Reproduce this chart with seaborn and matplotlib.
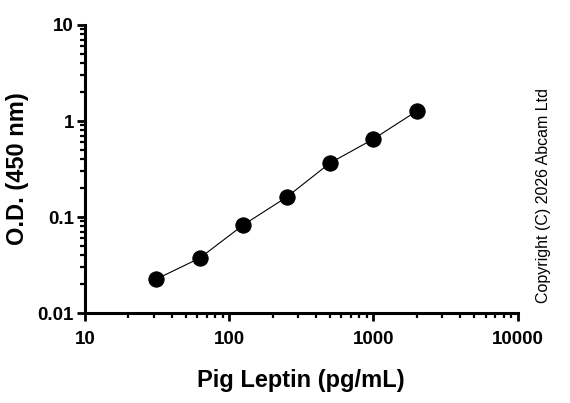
import numpy as np
import pandas as pd
import matplotlib
matplotlib.use("Agg")
import matplotlib.pyplot as plt
import seaborn as sns
from matplotlib.ticker import LogLocator, NullFormatter, FixedLocator, FixedFormatter

# values
concentration = [31.25, 62.5, 125, 250, 500, 1000, 2000]
od_450 = [0.0226, 0.0374, 0.0826, 0.161, 0.365, 0.649, 1.27]
x_ticks = [10, 100, 1000, 10000]
x_tick_labels = ["10", "100", "1000", "10000"]
y_ticks = [0.01, 0.1, 1, 10]
y_tick_labels = ["0.01", "0.1", "1", "10"]

sns.set_style("ticks")
plt.rcParams['font.family'] = ['Liberation Sans', 'DejaVu Sans']
plt.rcParams['text.color'] = 'black'
plt.rcParams['axes.labelcolor'] = 'black'
plt.rcParams['xtick.color'] = 'black'
plt.rcParams['ytick.color'] = 'black'

df = pd.DataFrame({"conc": concentration, "od": od_450})

fig = plt.figure(figsize=(5.7, 4.03), dpi=100)
ax = fig.add_axes([0.149, 0.223, 0.759, 0.715])

sns.lineplot(data=df, x="conc", y="od", color="black", linewidth=0.8,
             marker="o", markersize=11, markeredgecolor="black", ax=ax)

ax.set_xscale("log")
ax.set_yscale("log")
ax.set_xlim(10, 10000)
ax.set_ylim(0.01, 10)

ax.xaxis.set_major_locator(FixedLocator(x_ticks))
ax.xaxis.set_major_formatter(FixedFormatter(x_tick_labels))
ax.yaxis.set_major_locator(FixedLocator(y_ticks))
ax.yaxis.set_major_formatter(FixedFormatter(y_tick_labels))
ax.xaxis.set_minor_locator(LogLocator(base=10, subs=np.arange(2, 10)))
ax.yaxis.set_minor_locator(LogLocator(base=10, subs=np.arange(2, 10)))
ax.xaxis.set_minor_formatter(NullFormatter())
ax.yaxis.set_minor_formatter(NullFormatter())

for side in ["top", "right"]:
    ax.spines[side].set_visible(False)
for side in ["left", "bottom"]:
    ax.spines[side].set_linewidth(2.2)
    ax.spines[side].set_color("black")

ax.tick_params(which="major", length=6, width=2.0, color="black", direction="out")
ax.tick_params(which="minor", length=3.5, width=1.6, color="black", direction="out")
ax.tick_params(axis="both", which="major", labelsize=13.5, labelcolor="black")
ax.tick_params(axis="x", which="major", pad=7)
ax.tick_params(axis="y", which="major", pad=2)
for lab in ax.get_xticklabels() + ax.get_yticklabels():
    lab.set_fontweight("bold")

ax.set_xlabel("Pig Leptin (pg/mL)", fontsize=17, fontweight="bold", color="black")
ax.set_ylabel("O.D. (450 nm)", fontsize=17, fontweight="bold", color="black")
ax.xaxis.set_label_coords(0.5, -0.233)
ax.xaxis.label.set_va("center")
ax.yaxis.set_label_coords(-0.155, 0.5)
ax.yaxis.label.set_va("center")

fig.text(0.953, 0.516, "Copyright (C) 2026 Abcam Ltd", rotation=90,
         ha="center", va="center", fontsize=11.5, color="black")

fig.savefig("out.png", dpi=100)
